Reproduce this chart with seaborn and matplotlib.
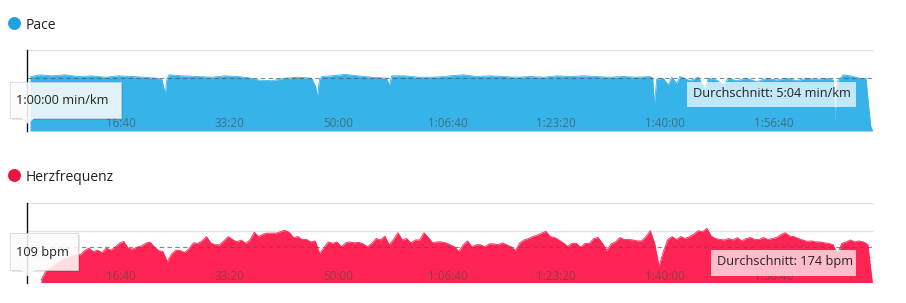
import numpy as np
import pandas as pd
import matplotlib
matplotlib.use("Agg")
import matplotlib.pyplot as plt
import seaborn as sns
from matplotlib.patches import Rectangle, Polygon
from matplotlib.lines import Line2D

# ---------------- data ----------------
# elapsed time [s] and pace [s/km]
pace_time = [164, 255, 363, 485, 608, 730, 853, 975, 1098, 1221, 1328, 1374, 1398, 1407, 1420, 1441,
             1558, 1711, 1834, 1956, 2078, 2201, 2262, 2385, 2507, 2630, 2753, 2790, 2804, 2823, 2845,
             2937, 3059, 3181, 3304, 3442, 3466, 3488, 3610, 3733, 3856, 3978, 4024, 4146, 4269, 4392,
             4514, 4637, 4759, 4881, 5005, 5127, 5249, 5372, 5494, 5617, 5740, 5862, 5887, 5902, 5924,
             5984, 6030, 6062, 6108, 6138, 6230, 6306, 6368, 6398, 6475, 6536, 6582, 6659, 6751, 6843,
             6935, 7027, 7118, 7210, 7302, 7394, 7486, 7547, 7562, 7584, 7639, 7700, 7792, 7847, 7869,
             7891, 7909]
pace_sec = [300, 294, 297, 294, 299, 297, 301, 297, 299, 301, 304, 307, 337, 352, 309, 294,
            297, 299, 301, 297, 299, 304, 309, 311, 304, 301, 304, 329, 361, 309, 299,
            297, 293, 297, 301, 304, 326, 297, 297, 301, 301, 299, 297, 294, 299, 297,
            299, 301, 299, 301, 297, 299, 297, 299, 301, 299, 301, 299, 304, 380, 307,
            304, 323, 301, 319, 299, 311, 301, 334, 304, 309, 323, 304, 311, 304, 314,
            304, 309, 304, 311, 304, 307, 304, 309, 423, 314, 294, 297, 304, 304, 376,
            442, 455]

# heart rate [bpm], one sample every 40 s starting at 265 s
hr_start = 265
hr_step = 40
hr_bpm = [105, 122, 129, 136, 143, 148, 152, 155, 158, 157,
          166, 171, 164, 167, 162, 171, 167, 173, 181, 185,
          171, 169, 173, 175, 181, 184, 174, 166, 164, 143,
          159, 167, 166, 162, 170, 182, 181, 186, 195, 182,
          178, 178, 186, 195, 189, 184, 188, 181, 188, 204,
          195, 200, 202, 202, 202, 205, 208, 204, 193, 195,
          189, 189, 184, 186, 160, 172, 184, 181, 184, 174,
          182, 184, 182, 183, 180, 174, 181, 191, 188, 196,
          178, 189, 203, 188, 191, 182, 188, 188, 203, 193,
          182, 184, 184, 182, 178, 174, 164, 178, 186, 174,
          178, 178, 174, 180, 180, 178, 182, 178, 174, 166,
          182, 188, 191, 195, 198, 202, 206, 195, 193, 188,
          182, 175, 181, 181, 173, 181, 181, 191, 193, 181,
          166, 180, 184, 193, 189, 189, 188, 186, 186, 195,
          207, 181, 133, 164, 189, 195, 189, 195, 191, 195,
          200, 207, 205, 212, 196, 191, 189, 188, 191, 188,
          193, 186, 191, 193, 189, 189, 193, 189, 191, 193,
          199, 203, 196, 195, 191, 188, 185, 186, 184, 184,
          182, 181, 178, 159, 181, 184, 188, 184, 186, 184,
          178, 100]

tick_seconds = [1000, 2000, 3000, 4000, 5000, 6000, 7000]
tick_labels = ["16:40", "33:20", "50:00", "1:06:40", "1:23:20", "1:40:00", "1:56:40"]

pace_avg = 304        # 5:04 min/km
hr_avg = 174
pace_cursor_label = "1:00:00 min/km"
hr_cursor_label = "109 bpm"
pace_avg_label = "Durchschnitt: 5:04 min/km"
hr_avg_label = "Durchschnitt: 174 bpm"

assert len(pace_time) == len(pace_sec)
hr_time = hr_start + hr_step * np.arange(len(hr_bpm))
pace_df = pd.DataFrame({"t": pace_time, "pace": pace_sec})
hr_df = pd.DataFrame({"t": hr_time, "bpm": hr_bpm})

# ---------------- style ----------------
sns.set_theme(style="white")
plt.rcParams["font.family"] = ["Open Sans", "DejaVu Sans"]

W, H = 906, 303
fig = plt.figure(figsize=(W / 100, H / 100), dpi=100)

BLUE = "#36B4EA"
RED = "#FF2453"
GRID = "#e4e4e4"
XLIM = (136, 7921)


def fax(x0, y0, x1, y1):
    return [x0 / W, 1 - y1 / H, (x1 - x0) / W, (y1 - y0) / H]


ax1 = fig.add_axes(fax(27, 50, 874, 131))
ax2 = fig.add_axes(fax(27, 202.7, 874, 282.5))

PACE_BOTTOM, PACE_TOP = 455, 223
HR_BOTTOM, HR_TOP = 100, 265


def style_axes(ax, ylim, yticks):
    ax.set_xlim(*XLIM)
    ax.set_ylim(*ylim)
    ax.set_yticks(yticks)
    ax.set_yticklabels([])
    ax.tick_params(axis="y", length=0)
    ax.grid(axis="y", color=GRID, lw=1.0)
    ax.grid(axis="x", visible=False)
    for s in ["top", "right", "bottom"]:
        ax.spines[s].set_visible(False)
    ax.spines["left"].set_color("#111111")
    ax.spines["left"].set_linewidth(1.0)
    ax.set_axisbelow(True)
    ax.xaxis.set_zorder(5)
    ax.spines["left"].set_zorder(6)
    ax.set_xticks(tick_seconds)
    ax.set_xticklabels(tick_labels, fontsize=8.4, color="#4a4a4a", alpha=0.65)
    ax.set_xlabel("")
    ax.set_ylabel("")


# Pace panel
ax1.fill_between(pace_df["t"], pace_df["pace"], PACE_BOTTOM, color=BLUE, lw=0, zorder=2)
sns.lineplot(data=pace_df, x="t", y="pace", ax=ax1, color=BLUE, lw=0.6, zorder=2.1)
style_axes(ax1, (PACE_BOTTOM, PACE_TOP), [PACE_TOP])
ax1.axhline(pace_avg, color="#555555", lw=0.8, ls=(0, (4, 3)), alpha=0.7, zorder=3)
ax1.tick_params(axis="x", length=0, pad=-2.7)
for t in ax1.xaxis.get_major_ticks():
    t.label1.set_verticalalignment("baseline")

# Heart-rate panel
ax2.fill_between(hr_df["t"], hr_df["bpm"], HR_BOTTOM, color=RED, lw=0, zorder=2)
sns.lineplot(data=hr_df, x="t", y="bpm", ax=ax2, color=RED, lw=0.6, zorder=2.1)
style_axes(ax2, (HR_BOTTOM, HR_TOP), [HR_BOTTOM, 153.3, 207.1, HR_TOP])
ax2.axhline(hr_avg, color="#555555", lw=0.8, ls=(0, (4, 3)), alpha=0.7, zorder=3)
ax2.tick_params(axis="x", length=0, pad=-1.8)
for t in ax2.xaxis.get_major_ticks():
    t.label1.set_verticalalignment("baseline")


# ---------------- titles, tooltips ----------------
def fx(x):
    return x / W


def fy(y):
    return 1 - y / H


fig.add_artist(Line2D([fx(14.5)], [fy(23)], marker="o", markersize=8.3, color="#1FA3E0", lw=0))
fig.text(fx(26), fy(28.7), "Pace", fontsize=10, color="#222222", va="baseline", ha="left")
fig.add_artist(Line2D([fx(14.5)], [fy(175)], marker="o", markersize=8.3, color="#E8163F", lw=0))
fig.text(fx(26), fy(180.7), "Herzfrequenz", fontsize=10, color="#222222", va="baseline", ha="left")


def rect(x0, y0, x1, y1, **kw):
    r = Rectangle((fx(x0), fy(y1)), (x1 - x0) / W, (y1 - y0) / H, transform=fig.transFigure, **kw)
    fig.add_artist(r)


def tri(pts, **kw):
    p = Polygon([(fx(x), fy(y)) for x, y in pts], closed=True, transform=fig.transFigure, **kw)
    fig.add_artist(p)


# cursor tooltips
for (x0, y0, x1, y1), label, base in [((9.5, 81.5, 120.5, 117.5), pace_cursor_label, 104),
                                      ((9.5, 232.7, 78.3, 270), hr_cursor_label, 256)]:
    rect(x0 + 2, y0 + 2, x1 + 2, y1 + 2, facecolor="black", alpha=0.10, lw=0, zorder=10)
    tri([(21, y1), (35, y1), (28, y1 + 7)], facecolor="black", alpha=0.10, lw=0, zorder=10)
    rect(x0, y0, x1, y1, facecolor="white", alpha=0.86, edgecolor="#cfcfcf", lw=0.6, zorder=11)
    tri([(21, y1), (35, y1), (28, y1 + 6.5)], facecolor="white", alpha=0.86, lw=0, zorder=11)
    fig.text(fx(x0 + 7), fy(base), label, fontsize=9.2, color="#222222", va="baseline",
             ha="left", zorder=12)

# average boxes
rect(687, 82, 856, 107, facecolor="white", alpha=0.7, lw=0, zorder=10)
fig.text(fx(692.7), fy(97.3), pace_avg_label, fontsize=9.2, color="#222222", va="baseline",
         ha="left", zorder=12)
rect(711, 250, 856, 275.7, facecolor="white", alpha=0.7, lw=0, zorder=10)
fig.text(fx(716.7), fy(265), hr_avg_label, fontsize=9.2, color="#222222", va="baseline",
         ha="left", zorder=12)

fig.savefig("out.png", dpi=100)
